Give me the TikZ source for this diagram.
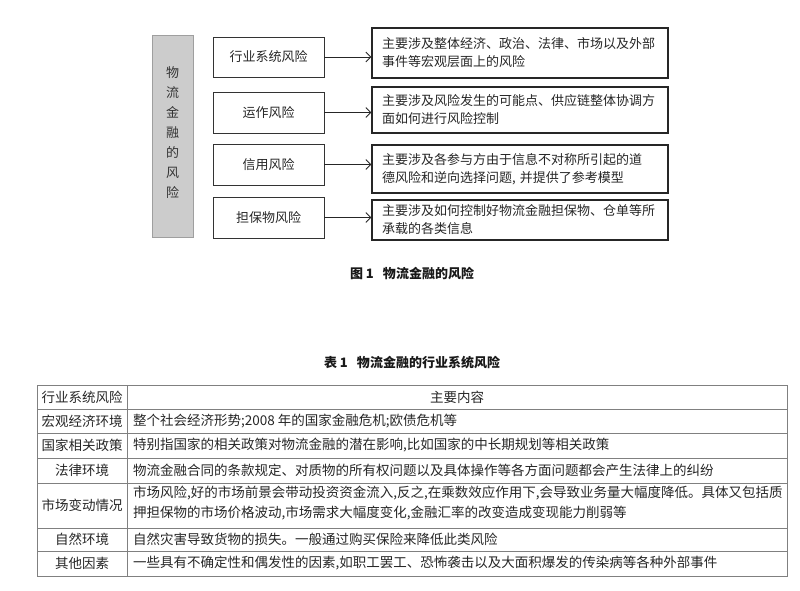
\documentclass[tikz,border=0pt]{standalone}
\usepackage{fontspec}
\setmainfont{Noto Sans CJK SC}
\usetikzlibrary{arrows.meta}
\begin{document}
\begin{tikzpicture}[x=1pt,y=-1pt,
  lbox/.style={draw=black!80, line width=0.8pt, minimum width=111pt, minimum height=41pt, inner sep=0pt, text=black!85, font=\fontsize{13}{15}\selectfont},
  rbox/.style={draw=black!85, line width=1.3pt, minimum width=296pt, inner xsep=10pt, inner ysep=0pt, text width=276pt, align=left, text=black!85, font=\fontsize{13}{18}\selectfont},
  arr/.style={-{Straight Barb[length=5pt,width=10pt]}, line width=0.8pt, black!85},
  lcell/.style={font=\fontsize{13.5}{20}\selectfont, inner sep=0pt, text=black!85},
  rcell/.style={font=\fontsize{13.5}{20}\selectfont, inner sep=0pt, anchor=west, align=left, text=black!85},
  tline/.style={draw=black!50, line width=0.9pt},
  capt/.style={font=\bfseries\fontsize{13}{15}\selectfont, text=black!90, inner sep=0pt}
]
\useasboundingbox (0,0) rectangle (800,590);

% ---- Figure 1 ----
\node[draw=gray!75, fill=gray!40, minimum width=41pt, minimum height=202pt, inner sep=0pt] (g) at (172.5,136) {};
\node[align=center, inner sep=0pt, text=black!80, font=\fontsize{13}{20}\selectfont] (gt) at (172.5,132.5) {物\\流\\金\\融\\的\\风\\险};

\node[lbox, minimum height=40pt] (l1) at (268.5,57) {行业系统风险};
\node[lbox] (l2) at (268.5,112.5) {运作风险};
\node[lbox] (l3) at (268.5,164.5) {信用风险};
\node[lbox] (l4) at (268.5,217.5) {担保物风险};

\node[rbox, minimum height=50pt] (r1) at (520,53) {主要涉及整体经济、政治、法律、市场以及外部\\事件等宏观层面上的风险};
\node[rbox, minimum height=46pt] (r2) at (520,110) {主要涉及风险发生的可能点、供应链整体协调方\\面如何进行风险控制};
\node[rbox, minimum height=48pt] (r3) at (520,169) {主要涉及各参与方由于信息不对称所引起的道\\德风险和逆向选择问题, 并提供了参考模型};
\node[rbox, minimum height=40pt] (r4) at (520,220) {主要涉及如何控制好物流金融担保物、仓单等所\\承载的各类信息};

\draw[arr] (l1.east) -- (l1.east -| r1.west);
\draw[arr] (l2.east) -- (l2.east -| r2.west);
\draw[arr] (l3.east) -- (l3.east -| r3.west);
\draw[arr] (l4.east) -- (l4.east -| r4.west);

\node[capt] (cap1) at (412,273) {图 1\hspace{0.7em}物流金融的风险};

% ---- Table 1 ----
\node[capt] (cap2) at (412,363) {表 1\hspace{0.7em}物流金融的行业系统风险};

\draw[tline] (37,385) rectangle (787,576);
\foreach \yy in {409,433,458,483,528,551} \draw[tline] (37,\yy) -- (787,\yy);
\draw[tline] (127,385) -- (127,576);

\node[lcell] (h1) at (82,397) {行业系统风险};
\node[lcell] (h2) at (457,397) {主要内容};
\node[lcell] (a1) at (82,421) {宏观经济环境};
\node[lcell] (b1) at (82,445.5) {国家相关政策};
\node[lcell] (c1) at (82,470.5) {法律环境};
\node[lcell] (d1) at (82,505.5) {市场变动情况};
\node[lcell] (e1) at (82,539.5) {自然环境};
\node[lcell] (f1) at (82,563.5) {其他因素};

\node[rcell] (a2) at (133,421) {整个社会经济形势;2008 年的国家金融危机;欧债危机等};
\node[rcell] (b2) at (133,445.5) {特别指国家的相关政策对物流金融的潜在影响,比如国家的中长期规划等相关政策};
\node[rcell] (c2) at (133,470.5) {物流金融合同的条款规定、对质物的所有权问题以及具体操作等各方面问题都会产生法律上的纠纷};
\node[rcell] (d2) at (133,503) {市场风险,好的市场前景会带动投资资金流入,反之,在乘数效应作用下,会导致业务量大幅度降低。具体又包括质\\押担保物的市场价格波动,市场需求大幅度变化,金融汇率的改变造成变现能力削弱等};
\node[rcell] (e2) at (133,539.5) {自然灾害导致货物的损失。一般通过购买保险来降低此类风险};
\node[rcell] (f2) at (133,563.5) {一些具有不确定性和偶发性的因素,如职工罢工、恐怖袭击以及大面积爆发的传染病等各种外部事件};
\end{tikzpicture}
\end{document}
